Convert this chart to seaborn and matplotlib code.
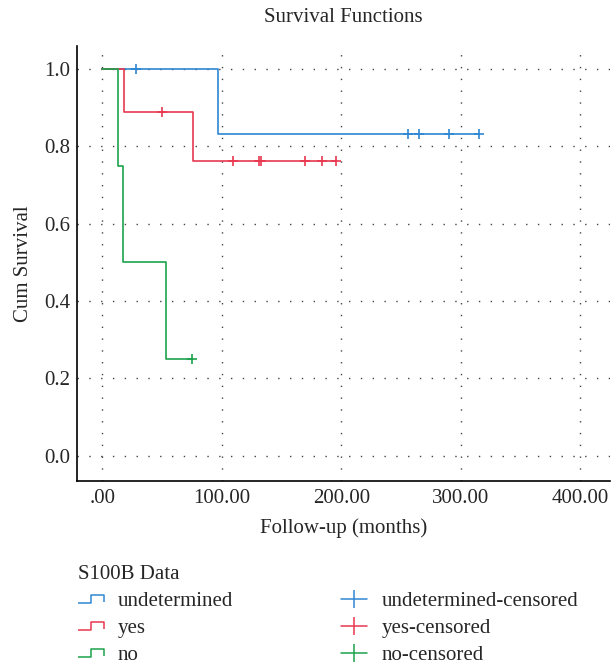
import matplotlib
matplotlib.use("Agg")
import matplotlib.pyplot as plt
import seaborn as sns
import pandas as pd
from matplotlib.lines import Line2D
from matplotlib.path import Path

# step curves (time of each change, survival after it)
und_t = [0, 97, 315]
und_s = [1.0, 0.833, 0.833]
yes_t = [0, 18, 76, 196]
yes_s = [1.0, 0.889, 0.762, 0.762]
no_t = [0, 13.5, 17, 53, 75]
no_s = [1.0, 0.75, 0.5, 0.25, 0.25]

# censored observations
und_cens_t = [28, 256, 265, 290, 315]
und_cens_s = [1.0, 0.833, 0.833, 0.833, 0.833]
yes_cens_t = [50, 109, 131, 133, 170, 184, 196]
yes_cens_s = [0.889, 0.762, 0.762, 0.762, 0.762, 0.762, 0.762]
no_cens_t = [75]
no_cens_s = [0.25]

groups = ["undetermined", "yes", "no"]
colors = {"undetermined": "#2f86d2", "yes": "#e8384f", "no": "#1ca24b"}

curves = pd.concat([
    pd.DataFrame({"t": und_t, "s": und_s, "g": "undetermined"}),
    pd.DataFrame({"t": yes_t, "s": yes_s, "g": "yes"}),
    pd.DataFrame({"t": no_t, "s": no_s, "g": "no"}),
])
cens = pd.concat([
    pd.DataFrame({"t": und_cens_t, "s": und_cens_s, "g": "undetermined"}),
    pd.DataFrame({"t": yes_cens_t, "s": yes_cens_s, "g": "yes"}),
    pd.DataFrame({"t": no_cens_t, "s": no_cens_s, "g": "no"}),
])

sns.set_style("white")
plt.rcParams["font.family"] = ["Liberation Serif", "DejaVu Serif"]
fs = 15

fig = plt.figure(figsize=(6.13, 6.65), dpi=100)
ax = fig.add_axes([0.126, 0.277, 0.869, 0.654])

for g in groups:
    d = curves[curves.g == g]
    sns.lineplot(data=d, x="t", y="s", ax=ax, color=colors[g], estimator=None,
                 sort=False, drawstyle="steps-post", linewidth=1.2, legend=False)
    c = cens[cens.g == g]
    sns.scatterplot(data=c, x="t", y="s", ax=ax, color=colors[g], marker="+",
                    s=55, linewidth=1.2, legend=False, zorder=3)

ax.set_xlim(-21, 425)
ax.set_ylim(-0.065, 1.06)
ax.set_xticks([0, 100, 200, 300, 400])
ax.set_xticklabels([".00", "100.00", "200.00", "300.00", "400.00"])
ax.set_yticks([0.0, 0.2, 0.4, 0.6, 0.8, 1.0])
ax.set_yticklabels(["0.0", "0.2", "0.4", "0.6", "0.8", "1.0"])
ax.tick_params(labelsize=fs, length=0)
ax.tick_params(axis="x", pad=6)
ax.tick_params(axis="y", pad=5)
ax.grid(True, color="#444444", linestyle=(0, (1, 7.5)), linewidth=1.0)
for side in ["top", "right"]:
    ax.spines[side].set_visible(False)
for side in ["left", "bottom"]:
    ax.spines[side].set_color("black")
    ax.spines[side].set_linewidth(1.2)

ax.set_xlabel("Follow-up (months)", fontsize=fs, labelpad=7)
ax.set_ylabel("Cum Survival", fontsize=fs, labelpad=8)
fig.text(343 / 613, 1 - 18 / 665, "Survival Functions", ha="center", va="center", fontsize=fs)

step = Path([(-1, -0.3), (0, -0.3), (0, 0.3), (1, 0.3), (1, -0.2)],
            [Path.MOVETO, Path.LINETO, Path.LINETO, Path.LINETO, Path.LINETO])
handles = [Line2D([], [], linestyle="none", marker=step, markersize=18.5,
                  markeredgecolor=colors[g], markerfacecolor="none", markeredgewidth=1.1)
           for g in groups]
handles += [Line2D([], [], color=colors[g], marker="|", markersize=13, linewidth=1.1,
                   markeredgewidth=1.1) for g in groups]
labels = groups + [g + "-censored" for g in groups]
leg = fig.legend(handles, labels, ncol=2, title="S100B Data", loc="upper left",
                 bbox_to_anchor=(0.113, 0.163), frameon=False, fontsize=fs,
                 title_fontsize=fs, handlelength=1.25, handletextpad=0.67,
                 columnspacing=5.2, labelspacing=0.36, borderaxespad=0)
leg._legend_box.align = "left"

fig.savefig("out.png", dpi=100)
